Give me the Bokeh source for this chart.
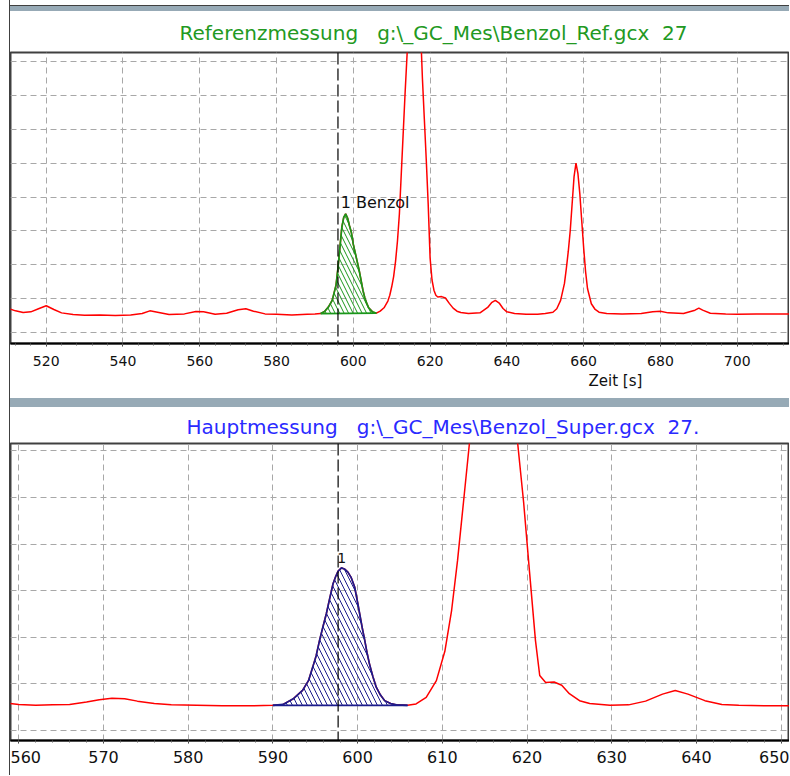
import numpy as np
from bokeh.plotting import figure
from bokeh.layouts import column, row
from bokeh.models import Span, Label, SingleIntervalTicker, FixedTicker, Range1d, Spacer, Title
from bokeh.embed import file_html
from bokeh.resources import INLINE

# ---------------- data ----------------
NB = "\u00a0"
ref_title = "Referenzmessung" + NB * 3 + "g:\\_GC_Mes\\Benzol_Ref.gcx" + NB * 2 + "27"
main_title = "Hauptmessung" + NB * 3 + "g:\\_GC_Mes\\Benzol_Super.gcx" + NB * 2 + "27."
ref_peak_label = "1 Benzol"
main_peak_label = "1"
x_axis_label = "Zeit [s]"

ref_time = [510.4, 512, 514, 516, 518, 520, 522, 524, 527, 530, 534, 538, 542, 545, 547, 549,
            552, 556, 559, 561, 564, 567, 570, 572, 574, 577, 580, 584, 588, 590,
            591.5, 592.5, 593.5, 594.5, 595.5, 596, 596.5, 597, 597.5, 598, 598.5, 599, 599.5,
            600, 600.5, 601, 601.5, 602, 602.5, 603, 603.5, 604, 605, 606,
            607, 608, 609, 609.5, 610, 610.5, 611, 611.5, 612, 612.5, 613, 613.5, 614, 614.5,
            615, 615.5, 616, 616.5, 617, 617.5, 618, 618.5, 619, 619.5, 620, 620.5, 621, 621.5,
            622, 623, 624, 625, 626, 627, 628, 630, 633, 635, 636, 637, 638, 639, 640, 642,
            645, 648, 650, 652, 653, 654, 655, 655.5, 656, 656.5, 657, 657.5, 658, 658.5, 659,
            659.5, 660, 660.5, 661, 662, 663, 664, 666, 670, 675, 678, 680, 682, 686, 689, 690,
            691, 693, 697, 700, 705, 714]
ref_signal = [7.0, 6.4, 5.9, 6.1, 7.0, 7.9, 6.8, 5.8, 5.3, 5.1, 5.2, 5.0, 5.2, 5.6, 6.4, 6.0,
              5.3, 5.5, 6.2, 6.1, 5.4, 5.7, 6.7, 7.0, 6.3, 5.5, 5.4, 5.2, 5.4, 5.5,
              5.6, 6.2, 7.5, 9.5, 14.0, 19.0, 25.0, 31.0, 34.0, 35.0, 33.8, 31.5, 29.5,
              26.0, 23.5, 21.0, 18.5, 15.5, 12.5, 10.2, 8.6, 7.3, 6.1, 5.7,
              6.3, 7.3, 9.3, 11.0, 13.5, 16.5, 21.0, 27.0, 35.0, 47.0, 59.0, 71.0, 82.0, 95.0,
              110.0, 122.0, 128.0, 122.0, 108.0, 90.0, 75.0, 63.0, 51.0, 38.0, 22.0, 15.5, 12.5, 11.0,
              10.5, 10.6, 10.2, 8.6, 7.2, 6.3, 5.9, 5.6, 5.8, 7.4, 8.8, 9.5, 8.7, 7.1, 6.1, 5.6,
              5.4, 5.4, 5.6, 6.0, 7.0, 9.5, 14.5, 19.0, 24.0, 30.0, 38.0, 46.0, 50.0, 47.0, 41.0,
              33.0, 25.0, 18.0, 13.0, 8.5, 6.8, 6.0, 5.6, 5.5, 5.6, 6.1, 6.3, 5.8, 5.6, 6.6, 7.2,
              6.6, 5.7, 5.5, 5.4, 5.5, 5.5]

main_time = [558.9, 560, 562, 564, 566, 568, 569.5, 571, 572.5, 574, 576, 578, 581, 584, 587, 590,
             591.2, 592.4, 593.5, 594.2, 594.7, 595.1, 595.5, 595.9, 596.3, 596.7, 597.1, 597.4,
             597.7, 598.1, 598.5, 598.85, 599.25, 599.65, 600.0, 600.25, 600.55, 600.85, 601.1,
             601.4, 601.8, 602.2, 602.7, 603.2, 603.9, 604.6, 605.9,
             606.9, 608.1, 609.3, 610.3, 611.1, 611.8, 612.5, 613.2, 613.6, 614, 614.5, 615, 615.5,
             616, 616.5, 617, 617.5, 618, 618.5, 618.9, 619.6, 620.3, 621.0, 621.5, 622.2, 623.2,
             624.1, 625.0, 626.2, 627.4, 629.8, 632, 634, 636, 637.5, 639, 641, 643, 645, 648, 651.1]
main_signal = [5.8, 5.6, 5.4, 5.5, 5.6, 6.1, 6.6, 6.9, 6.8, 6.3, 5.8, 5.5, 5.4, 5.3, 5.3, 5.4,
               5.6, 6.8, 8.6, 10.7, 13.6, 16.0, 19.3, 22.2, 25.0, 28.3, 31.5, 33.0,
               34.2, 34.9, 34.6, 34.0, 32.8, 30.8, 27.5, 25.0, 22.0, 19.3, 16.8,
               14.3, 11.6, 9.3, 7.6, 6.4, 5.8, 5.5, 5.4,
               5.7, 7.1, 10.7, 17.0, 25.8, 36.5, 49.0, 61.6, 68.0, 77.0, 87.0, 96.0, 102.0,
               104.0, 102.0, 96.0, 88.0, 78.0, 68.0, 61.6, 49.0, 34.0, 19.3, 11.8, 10.3, 10.4,
               9.7, 7.9, 6.4, 5.8, 5.4, 5.5, 6.3, 7.8, 8.6, 7.8, 6.4, 5.6, 5.4, 5.3, 5.3]

ref_peak_window = (591.5, 606.0)
main_peak_window = (590.0, 605.9)
ref_marker = 596.0
main_marker = 597.7
ref_label_pos = (596.7, 38.5)
main_label_pos = (597.6, 37.1)
ref_grid_levels = [0, 10, 20, 30, 40, 50, 60, 70, 80]
main_grid_levels = [0, 10, 20, 30, 40, 50, 60]

FONT = "DejaVu Sans"
W = 779


def make_panel(t, s, window, marker, title, title_color, peak_color, hatch_color, xr, yr,
               xstep, height, b_top, b_bottom, tick_size, label_std, title_offset,
               title_standoff, peak_label, label_pos, label_size, hatch_scale, grid_levels):
    p = figure(width=W, height=height, x_range=Range1d(*xr), y_range=Range1d(*yr),
               output_backend="svg", toolbar_location=None, title=title,
               min_border_left=0, min_border_right=0, min_border_top=b_top,
               min_border_bottom=b_bottom)
    p.title.text_color = title_color
    p.title.text_font = FONT
    p.title.text_font_size = "20px"
    p.title.text_font_style = "normal"
    p.title.align = "left"
    p.title.offset = title_offset
    p.title.standoff = title_standoff

    p.background_fill_color = "white"
    p.border_fill_color = "white"
    p.outline_line_color = "#404040"
    p.outline_line_width = 2

    p.yaxis.visible = False
    p.ygrid.ticker = FixedTicker(ticks=grid_levels)
    p.xaxis.ticker = SingleIntervalTicker(interval=xstep, num_minor_ticks=5)
    for g in (p.xgrid, p.ygrid):
        g.grid_line_color = "#a8a8a8"
        g.grid_line_dash = "6 4"
        g.grid_line_width = 1
    ax = p.xaxis[0]
    ax.axis_line_color = "black"
    ax.axis_line_width = 2
    ax.major_tick_line_color = "#303030"
    ax.minor_tick_line_color = "#606060"
    ax.major_tick_in = 0
    ax.major_tick_out = 3
    ax.minor_tick_in = 0
    ax.minor_tick_out = 2
    ax.major_label_text_font = FONT
    ax.major_label_text_font_size = tick_size
    ax.major_label_text_color = "#111111"
    ax.major_label_standoff = label_std

    t = np.asarray(t, dtype=float)
    s = np.asarray(s, dtype=float)
    p.line(t, s, line_color="#ff0000", line_width=1.5)

    m = (t >= window[0]) & (t <= window[1])
    pt, ps = t[m], s[m]
    base = np.interp(pt, [pt[0], pt[-1]], [ps[0], ps[-1]])
    p.varea(x=pt, y1=base, y2=ps, fill_color=None, hatch_pattern="\\",
            hatch_color=hatch_color, hatch_alpha=1.0, hatch_scale=hatch_scale, hatch_weight=1)
    p.line(pt, ps, line_color=peak_color, line_width=1.7)
    p.line([pt[0], pt[-1]], [ps[0], ps[-1]], line_color=peak_color, line_width=1.7)

    p.add_layout(Span(location=marker, dimension="height", line_color="black",
                      line_dash="12 4", line_width=1.2))
    p.add_layout(Label(x=label_pos[0], y=label_pos[1], text=peak_label, text_font=FONT,
                       text_font_size=label_size, text_color="#111111",
                       text_align="left", text_baseline="middle"))
    return p


p1 = make_panel(ref_time, ref_signal, ref_peak_window, ref_marker, ref_title, "#229922",
                "#1a961a", "#1a961a", (510.70, 713.62), (-3.24, 82.65), 20, 387, 40, 55,
                "14px", 9, 169, 15, ref_peak_label, ref_label_pos, "16px", 9, ref_grid_levels)
p1.add_layout(Title(text=x_axis_label, align="left", offset=578, standoff=2,
                    text_font=FONT, text_font_size="15px", text_font_style="normal",
                    text_color="#111111"), "below")

p2 = make_panel(main_time, main_signal, main_peak_window, main_marker, main_title, "#2a2aff",
                "#1c1c8c", "#1c1c8c", (559.02, 650.99), (-2.15, 61.6), 10, 368, 36, 35,
                "16px", 7, 176, 10, main_peak_label, main_label_pos, "14px", 10, main_grid_levels)

grey = {"background-color": "#97aab6"}
dark = {"background-color": "#404040"}
inner = column(Spacer(width=W, height=5),
               Spacer(width=W, height=1, styles=dark),
               Spacer(width=W, height=5, styles=grey),
               p1,
               Spacer(width=W, height=9, styles=grey),
               p2,
               styles={"border-left": "1px solid #404040"})
layout = row(Spacer(width=9, height=775), inner)

open("out.html", "w").write(file_html(layout, INLINE))
